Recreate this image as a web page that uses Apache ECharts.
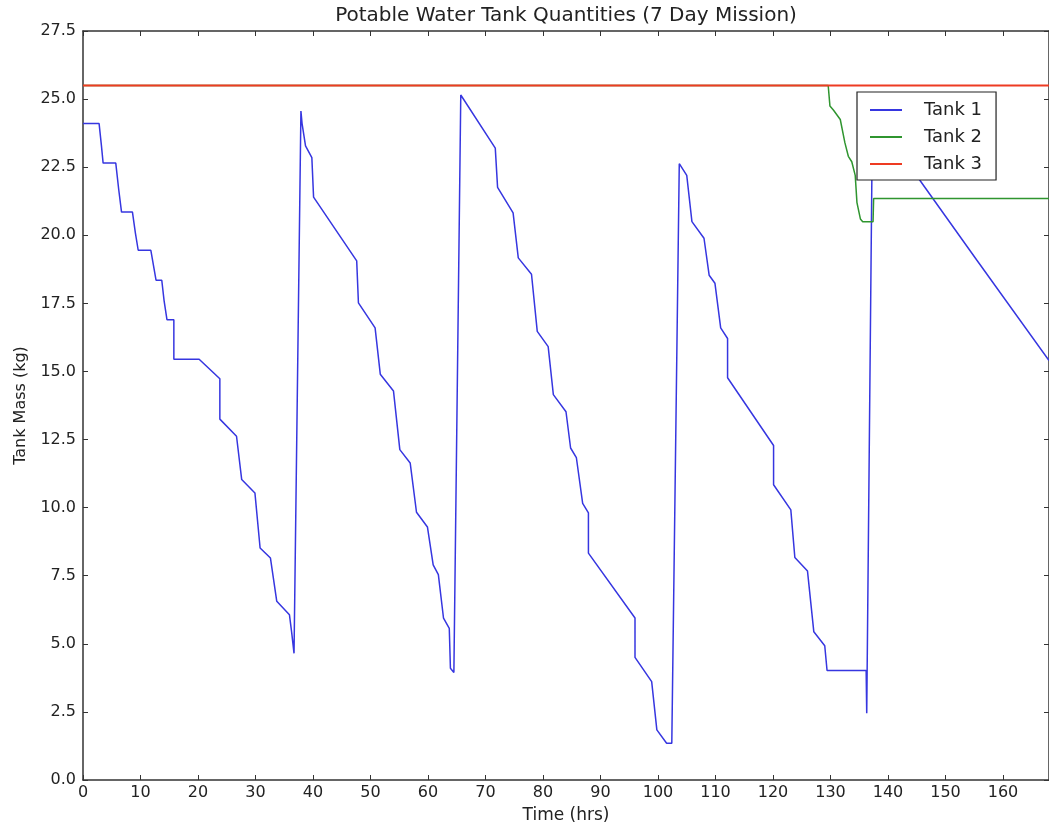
<!DOCTYPE html>
<html>
<head>
<meta charset="utf-8">
<script src="https://cdn.jsdelivr.net/npm/echarts@6/dist/echarts.min.js"></script>
<style>
html,body{margin:0;padding:0;background:#fff;}
#chart{width:1049px;height:829px;}
</style>
</head>
<body>
<div id="chart"></div>
<script>
// ---- data ----
const tank1Time = [0, 2.8, 3.2, 3.5, 5.7, 6.2, 6.7, 8.6, 9.1, 9.6, 11.8, 12.7, 13.7, 14.1, 14.6, 15.8, 15.8, 20.2, 23.8, 23.8,
  26.7, 27.6, 29.9, 30.8, 32.6, 33.7, 35.9, 36.3, 36.7, 37.9, 38.1, 38.7, 39.8, 40.1, 47.6, 47.9,
  50.8, 51.7, 54.0, 55.1, 56.9, 58.0, 59.9, 60.9, 61.8, 62.7, 63.7, 63.9, 64.5, 65.7,
  71.7, 72.1, 74.8, 75.7, 78.0, 79.0, 80.9, 81.8, 84.0, 84.8, 85.8, 86.9, 87.9, 87.9, 96.0, 96.0,
  98.9, 99.8, 101.5, 102.4, 103.7, 105.0, 105.9, 108.0, 108.9, 109.9, 110.9, 112.1, 112.1, 120.1, 120.1,
  123.1, 123.8, 126.0, 127.1, 129.0, 129.4, 136.2, 136.3, 137.3, 145.6, 155.4, 168];
const tank1Mass = [24.1, 24.1, 23.3, 22.65, 22.65, 21.7, 20.85, 20.85, 20.1, 19.45, 19.45, 18.35, 18.35, 17.6, 16.9, 16.9, 15.45, 15.45, 14.73, 13.25,
  12.62, 11.03, 10.54, 8.52, 8.15, 6.56, 6.07, 5.4, 4.65, 24.56, 24.1, 23.28, 22.85, 21.4, 19.06, 17.52,
  16.6, 14.9, 14.28, 12.13, 11.64, 9.83, 9.29, 7.9, 7.54, 5.94, 5.57, 4.1, 3.95, 25.15,
  23.2, 21.76, 20.82, 19.17, 18.57, 16.47, 15.91, 14.15, 13.52, 12.19, 11.84, 10.16, 9.81, 8.33, 5.95, 4.5,
  3.61, 1.84, 1.35, 1.35, 22.63, 22.2, 20.5, 19.89, 18.53, 18.24, 16.6, 16.21, 14.77, 12.28, 10.84,
  9.92, 8.17, 7.67, 5.44, 4.93, 4.02, 4.02, 2.45, 24.46, 22.0, 19.1, 15.4];

const tank2Time = [0, 129.6, 129.9, 130.5, 131.7, 132.5, 133.1, 133.7, 134.3, 134.6, 135.2, 135.6, 137.4, 137.5, 168];
const tank2Mass = [25.5, 25.5, 24.75, 24.6, 24.25, 23.4, 22.9, 22.7, 22.2, 21.2, 20.6, 20.5, 20.5, 21.35, 21.35];

const tank3Time = [0, 168];
const tank3Mass = [25.5, 25.5];

const seriesNames = ['Tank 1', 'Tank 2', 'Tank 3'];
const xTicks = [0, 10, 20, 30, 40, 50, 60, 70, 80, 90, 100, 110, 120, 130, 140, 150, 160];
const yTicks = [0, 2.5, 5, 7.5, 10, 12.5, 15, 17.5, 20, 22.5, 25, 27.5];

// ---- build ----
function pairs(ts, vs) { return ts.map((t, i) => [t, vs[i]]); }
const FONT = 'DejaVu Sans';
const AX = '#333';

const chart = echarts.init(document.getElementById('chart'), null, {renderer: 'canvas'});
const xMin = xTicks[0], xMax = 168, xStep = xTicks[1] - xTicks[0];
const yMin = yTicks[0], yMax = yTicks[yTicks.length - 1], yStep = yTicks[1] - yTicks[0];

function xAxisCfg(pos, showLabel) {
  return {
    type: 'value', position: pos, min: xMin, max: xMax, interval: xStep,
    axisLine: {show: true, onZero: false, lineStyle: {color: AX, width: 1.5}},
    axisTick: {show: true, inside: true, length: 5, lineStyle: {color: AX}},
    axisLabel: {show: showLabel, margin: 5, color: '#222', fontFamily: FONT, fontSize: 16,
      showMaxLabel: false,
      formatter: v => (xTicks.indexOf(v) >= 0 ? String(v) : '')},
    splitLine: {show: false}
  };
}
function yAxisCfg(pos, showLabel) {
  return {
    type: 'value', position: pos, min: yMin, max: yMax, interval: yStep,
    axisLine: {show: true, onZero: false, lineStyle: {color: AX, width: 1.5}},
    axisTick: {show: true, inside: true, length: 5, lineStyle: {color: AX}},
    axisLabel: {show: showLabel, margin: 7, color: '#222', fontFamily: FONT, fontSize: 16,
      formatter: v => v.toFixed(1)},
    splitLine: {show: false}
  };
}

const xa0 = xAxisCfg('bottom', true);
xa0.name = 'Time (hrs)';
xa0.nameLocation = 'middle';
xa0.nameGap = 27;
xa0.nameTextStyle = {fontFamily: FONT, fontSize: 17, color: '#222'};
const ya0 = yAxisCfg('left', true);
ya0.name = 'Tank Mass (kg)';
ya0.nameLocation = 'middle';
ya0.nameGap = 54;
ya0.nameTextStyle = {fontFamily: FONT, fontSize: 16, color: '#222'};

const colors = ['#3636e0', '#2f952f', '#ee3b22'];
const widths = [1.5, 1.5, 2];
const datas = [pairs(tank1Time, tank1Mass), pairs(tank2Time, tank2Mass), pairs(tank3Time, tank3Mass)];

chart.setOption({
  animation: false,
  backgroundColor: '#fff',
  title: {
    text: 'Potable Water Tank Quantities (7 Day Mission)',
    left: 566, top: 6, textAlign: 'center', padding: 0,
    textStyle: {fontFamily: FONT, fontSize: 20, fontWeight: 'normal', color: '#222'}
  },
  grid: {left: 83, right: 0, top: 31, bottom: 49, containLabel: false},
  xAxis: [xa0, xAxisCfg('top', false)],
  yAxis: [ya0, yAxisCfg('right', false)],
  legend: {
    orient: 'vertical', left: 857, top: 92,
    data: seriesNames,
    icon: 'rect', itemWidth: 32, itemHeight: 2, itemGap: 7,
    padding: [8, 14, 6, 13],
    backgroundColor: '#fff', borderColor: '#222', borderWidth: 1.2, borderRadius: 0,
    textStyle: {fontFamily: FONT, fontSize: 18, color: '#222', lineHeight: 20, padding: [0, 0, 0, 17]}
  },
  series: seriesNames.map((n, i) => ({
    name: n, type: 'line', data: datas[i],
    xAxisIndex: 0, yAxisIndex: 0,
    showSymbol: false, symbol: 'none',
    lineStyle: {color: colors[i], width: widths[i]},
    itemStyle: {color: colors[i]},
    z: 2 + i
  }))
});
</script>
</body>
</html>
